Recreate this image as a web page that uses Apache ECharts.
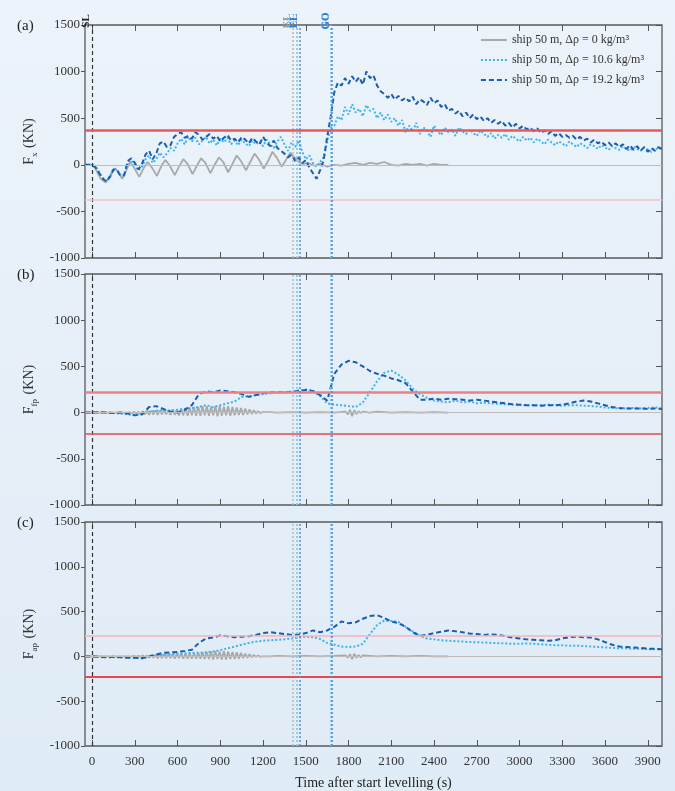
<!DOCTYPE html>
<html><head><meta charset="utf-8">
<script src="https://cdn.jsdelivr.net/npm/echarts@6/dist/echarts.min.js"></script>
<style>html,body{margin:0;padding:0;background:#e6eff8}#c{width:675px;height:791px}</style>
</head><body><div id="c"></div><script>
// ---------- data ----------
const seriesNames = ['ship 50 m, Δρ = 0 kg/m³', 'ship 50 m, Δρ = 10.6 kg/m³', 'ship 50 m, Δρ = 19.2 kg/m³'];
const panelLabels = ['(a)', '(b)', '(c)'];
const yNames = ['{m|F}{s|x}{m| (KN)}', '{m|F}{s|fp}{m| (KN)}', '{m|F}{s|ap}{m| (KN)}'];
const xTicks = [0,300,600,900,1200,1500,1800,2100,2400,2700,3000,3300,3600,3900];
const slTime = 0;
const elTimes = [1405, 1435, 1460];   // grey, light, dark
const goTimes = [1676, 1682];         // light, dark
const limitsA = [370, -375];
const limitsB = [225, -225];
const limitsC = [225, -230];

// panel (a) time grid
const T25 = [-50,-25,0,25,50,75,100,125,150,175,200,225,250,275,300,325,350,375,400,425,
450,475,500,525,550,575,600,625,650,675,700,725,750,775,800,825,850,875,900,925,
950,975,1000,1025,1050,1075,1100,1125,1150,1175,1200,1225,1250,1275,1300,1325,1350,1375,1400,1425,
1450,1475,1500,1525,1550,1575,1600,1625,1650,1675,1700,1725,1750,1775,1800,1825,1850,1875,1900,1925,
1950,1975,2000,2025,2050,2075,2100,2125,2150,2175,2200,2225,2250,2275,2300,2325,2350,2375,2400,2425,
2450,2475,2500,2525,2550,2575,2600,2625,2650,2675,2700,2725,2750,2775,2800,2825,2850,2875,2900,2925,
2950,2975,3000,3025,3050,3075,3100,3125,3150,3175,3200,3225,3250,3275,3300,3325,3350,3375,3400,3425,
3450,3475,3500,3525,3550,3575,3600,3625,3650,3675,3700,3725,3750,3775,3800,3825,3850,3875,3900,3925,
3950,3975,4000];
const darkA = [0,0,0,-30,-90,-150,-180,-130,-50,-60,-120,-110,40,70,20,-50,10,110,150,60,
120,230,250,190,210,300,330,350,290,310,280,350,320,270,300,330,280,310,250,290,
320,260,280,240,300,270,230,290,250,220,300,240,200,260,180,150,120,80,110,40,
80,20,50,-30,-90,-150,-60,50,300,520,780,880,850,930,870,950,890,940,860,1000,
930,960,850,790,760,720,760,700,740,690,720,680,730,650,700,680,640,720,660,690,
620,650,580,600,550,580,520,560,500,540,490,520,470,500,450,480,440,470,420,450,
400,440,390,420,380,400,360,390,340,370,330,360,310,340,300,320,290,310,270,300,
260,280,240,270,230,250,210,240,200,230,190,220,170,210,160,200,150,190,140,180,
150,190,170];
const lightA = [0,0,0,-20,-80,-140,-170,-120,-40,-50,-110,-120,20,50,-10,-60,-20,60,100,20,
60,130,80,120,180,150,230,280,220,300,250,290,220,260,300,230,270,210,280,240,
290,220,260,210,270,230,200,260,220,250,200,270,220,180,250,300,220,150,240,190,
260,140,60,100,20,-20,30,80,250,400,420,520,480,620,540,650,560,600,520,640,
580,600,500,560,480,540,460,500,420,480,350,420,360,450,330,400,370,300,420,360,
320,400,350,380,310,400,360,330,380,340,310,370,330,300,340,280,320,290,330,270,
310,280,250,300,260,290,240,280,250,220,270,240,210,250,230,200,250,220,190,230,
210,180,220,200,170,210,190,160,200,180,160,200,170,150,190,170,150,190,160,140,
180,160,190];
const greyA_t = [-50,0,20,60,95,130,155,175,211,240,265,290,331,360,390,420,455,490,515,545,580,610,640,670,705,
735,765,795,830,860,890,920,955,985,1015,1045,1080,1110,1140,1170,1205,1235,1265,1295,1330,1360,1390,1420,1450,1480,
1520,1560,1600,1650,1700,1750,1800,1850,1900,1950,2000,2050,2100,2150,2200,2250,2300,2350,2400,2450,2500];
const greyA_v = [0,0,-30,-150,-190,-120,-40,-60,-150,-60,30,-20,-130,-40,30,-30,-120,0,50,-10,-110,-20,60,10,-100,
-10,70,20,-90,0,80,30,-80,10,100,40,-60,30,120,60,-40,40,140,80,-20,50,130,80,30,10,
20,-10,10,-20,0,-10,10,20,0,20,10,30,0,-10,10,0,10,-10,10,0,0];

// panels (b),(c) time grid
const T50 = [-50,0,50,100,150,200,250,300,350,400,450,500,550,600,650,700,750,800,850,900,
950,1000,1050,1100,1150,1200,1250,1300,1350,1400,1450,1500,1550,1600,1650,1700,1750,1800,1850,1900,
1950,2000,2050,2100,2150,2200,2250,2300,2350,2400,2450,2500,2550,2600,2650,2700,2750,2800,2850,2900,
2950,3000,3050,3100,3150,3200,3250,3300,3350,3400,3450,3500,3550,3600,3650,3700,3750,3800,3850,3900,
3950,4000];
const darkB = [0,0,5,0,-5,0,-10,-30,-20,60,70,40,10,0,30,80,200,230,220,240,
230,220,200,170,190,210,220,220,220,225,235,245,235,190,130,420,520,560,545,500,
450,420,400,370,350,320,230,140,140,150,140,150,145,140,130,140,130,120,110,100,
90,85,80,80,75,80,80,85,100,120,130,120,100,80,60,50,45,45,45,40,
45,40];
const lightB = [0,0,0,0,-5,-10,-20,-30,-10,10,20,30,20,30,40,50,60,80,60,80,
100,120,170,180,190,200,210,215,220,225,240,250,230,180,100,85,80,70,60,110,
220,340,430,455,410,350,260,200,160,130,120,110,130,110,120,100,110,100,95,90,
85,85,80,80,80,85,80,75,80,80,75,70,65,55,50,45,45,50,45,50,
55,45];
const darkC = [0,0,-5,-10,-5,-10,-15,-15,-20,0,20,40,45,50,60,75,150,200,210,235,
225,215,220,225,240,260,270,260,250,240,245,260,290,270,290,330,390,370,380,420,
450,460,430,390,370,330,270,230,240,260,275,290,280,270,255,250,240,245,240,225,
210,200,190,185,180,175,180,200,215,220,215,210,190,160,130,110,105,100,95,85,
85,80];
const lightC = [0,0,-5,-5,-10,-10,-10,-15,-20,-5,10,20,25,30,35,40,40,45,55,70,
90,110,130,150,165,175,180,185,190,200,210,220,215,195,150,130,110,105,110,140,
250,350,400,395,385,330,280,230,200,190,180,175,170,165,160,158,155,150,148,145,
140,140,145,140,135,130,125,125,120,120,115,110,105,100,95,90,90,85,85,80,
80,80];
const greyBC_t = [-50,0,100,200,250,
265,280,295,310,325,340,355,370,385,400,415,430,445,460,475,490,505,520,535,550,565,580,595,610,625,640,655,670,685,700,
715,730,745,760,775,790,805,820,835,850,865,880,895,910,925,940,955,970,985,1000,1015,1030,1045,1060,1075,1090,1105,1120,1135,1150,1165,1180,1195,
1250,1300,1400,1500,1600,1700,1780,1795,1810,1825,1840,1855,1870,1885,1900,1950,2000,2100,2200,2300,2400,2500];
const greyB_v = [0,0,0,0,0,
5,-10,10,-15,10,-20,15,-20,20,-25,20,-20,25,-25,25,-20,30,-20,30,-25,35,-25,35,-30,45,-30,50,-35,55,-30,
60,-35,65,-35,70,-30,70,-35,65,-30,70,-40,75,-35,65,-30,70,-35,60,-30,55,-25,50,-25,45,-20,35,-15,25,-10,15,-5,5,
5,0,5,0,5,0,10,-20,30,-40,25,-15,15,-5,10,0,10,0,5,0,5,0];
const greyC_v = [0,0,0,0,0,
0,0,5,-5,5,-5,10,-10,10,-15,15,-15,20,-20,20,-20,25,-20,25,-20,25,-25,30,-20,30,-25,30,-25,35,-25,
35,-25,40,-25,45,-30,50,-30,55,-35,60,-30,55,-35,60,-35,55,-30,50,-30,45,-25,40,-20,30,-15,25,-10,15,-5,10,-5,0,
0,5,0,5,0,5,10,-15,25,-30,30,-15,15,-10,10,5,0,5,0,5,0,0];

// ---------- build ----------
const FONT = '"Liberation Serif","DejaVu Serif",serif';
const C_GREY = '#a9a9a9', C_LIGHT = '#3cb4ef', C_DARK = '#1a5db2';
const zip = (t, v) => t.map((x, i) => [x, v[i]]);
const plain = v => String(v);
const panels = [
  {grey: zip(greyA_t, greyA_v), light: zip(T25, lightA), dark: zip(T25, darkA), lim: limitsA,
   limStyle: [{color:'#e8575c', width:2.5}, {color:'#f2c0c4', width:1.5}]},
  {grey: zip(greyBC_t, greyB_v), light: zip(T50, lightB), dark: zip(T50, darkB), lim: limitsB,
   limStyle: [{color:'#ef7f86', width:2.5}, {color:'#e8474f', width:1.5}]},
  {grey: zip(greyBC_t, greyC_v), light: zip(T50, lightC), dark: zip(T50, darkC), lim: limitsC,
   limStyle: [{color:'#f0b4b8', width:1.5}, {color:'#e8474f', width:2}]}
];
const tops = [25, 274, 522];
const heights = [233, 231, 230];
const grid = tops.map((t, i) => ({left:85, right:13, top:t, height:heights[i], show:true,
  borderColor:'#5a5a5a', borderWidth:1.3, backgroundColor:'transparent'}));
const xAxis = [], yAxis = [];
for (let i = 0; i < 3; i++) {
  xAxis.push({type:'value', gridIndex:i, position:'bottom', min:-50, max:4000, axisLine:{show:false, onZero:false}, splitLine:{show:false},
    axisTick:{show:true, inside:true, length:6, customValues:xTicks, lineStyle:{color:'#555'}},
    axisLabel:{show:i===2, customValues:xTicks, formatter:plain, color:'#333', fontFamily:FONT, fontSize:13, margin:9},
    name: i===2 ? 'Time after start levelling (s)' : '', nameLocation:'middle', nameGap:30,
    nameTextStyle:{color:'#222', fontFamily:FONT, fontSize:14}});
  yAxis.push({type:'value', gridIndex:i, position:'left', min:-1000, max:1500, interval:500, axisLine:{show:false, onZero:false},
    splitLine:{show:false}, axisTick:{show:true, inside:false, length:4, lineStyle:{color:'#555'}},
    axisLabel:{color:'#333', fontFamily:FONT, fontSize:13, margin:5, formatter:plain},
    name: yNames[i], nameLocation:'middle', nameGap:39,
    nameTextStyle:{color:'#333', fontFamily:FONT, rich:{m:{fontSize:14, fontFamily:FONT, color:'#333'},
      s:{fontSize:9, fontFamily:FONT, color:'#333', padding:[9,1,0,0]}}}});
}
for (let i = 0; i < 3; i++) {
  xAxis.push({type:'value', gridIndex:i, position:'top', min:-50, max:4000, axisLine:{show:false, onZero:false}, splitLine:{show:false},
    axisTick:{show:true, inside:true, length:6, customValues:xTicks, lineStyle:{color:'#555'}}, axisLabel:{show:false}});
  yAxis.push({type:'value', gridIndex:i, position:'right', min:-1000, max:1500, interval:500, axisLine:{show:false, onZero:false},
    splitLine:{show:false}, axisTick:{show:true, inside:true, length:6, lineStyle:{color:'#555'}}, axisLabel:{show:false}});
}
const vLabel = (txt, color, show) => ({show, formatter:txt, position:'end', rotate:90, color,
  fontFamily:FONT, fontSize:11, fontWeight:'bold', distance:4});
const series = [];
panels.forEach((p, i) => {
  const lab = i === 0;
  series.push({name:seriesNames[0], type:'line', xAxisIndex:i, yAxisIndex:i, data:p.grey, showSymbol:false,
    symbol:'none', lineStyle:{color:C_GREY, width:1.8}, itemStyle:{color:C_GREY}, z:2,
    markLine:{silent:true, symbol:'none', animation:false, data:[
      {yAxis:0, lineStyle:{color:'#bdbdbd', width:1, type:'solid'}, label:{show:false}},
      {xAxis:slTime, lineStyle:{color:'#333', width:1.2, type:[4,3]}, label:vLabel('SL', '#222', lab)},
      {xAxis:elTimes[0], lineStyle:{color:'#b8b8b8', width:1.5, type:[2,2]}, label:vLabel('EL', '#9a9a9a', lab)}
    ]}});
  series.push({name:seriesNames[1], type:'line', xAxisIndex:i, yAxisIndex:i, data:p.light, showSymbol:false,
    symbol:'none', lineStyle:{color:C_LIGHT, width:2, type:[2,2]}, itemStyle:{color:C_LIGHT}, z:3,
    markLine:{silent:true, symbol:'none', animation:false, data:[
      {xAxis:elTimes[1], lineStyle:{color:'#7fcdf5', width:1.8, type:[2,2]}, label:vLabel('EL', '#55b9ef', lab)},
      {xAxis:goTimes[0], lineStyle:{color:'#7fcdf5', width:1.8, type:[2,2]}, label:vLabel('GO', '#55b9ef', lab)}
    ]}});
  series.push({name:seriesNames[2], type:'line', xAxisIndex:i, yAxisIndex:i, data:p.dark, showSymbol:false,
    symbol:'none', lineStyle:{color:C_DARK, width:2, type:[5,3]}, itemStyle:{color:C_DARK}, z:4,
    markLine:{silent:true, symbol:'none', animation:false, data:[
      {yAxis:p.lim[0], lineStyle:Object.assign({type:'solid'}, p.limStyle[0]), label:{show:false}},
      {yAxis:p.lim[1], lineStyle:Object.assign({type:'solid'}, p.limStyle[1]), label:{show:false}},
      {xAxis:elTimes[2], lineStyle:{color:'#5a8fd0', width:1.5, type:[2,2]}, label:vLabel('EL', '#3a78c8', lab)},
      {xAxis:goTimes[1], lineStyle:{color:'#4a8ad8', width:1.5, type:[2,2]}, label:vLabel('GO', '#2f7fd6', lab)}
    ]}});
});
const chart = echarts.init(document.getElementById('c'), null, {renderer:'canvas'});
chart.setOption({
  animation:false,
  backgroundColor:{type:'linear', x:0, y:0, x2:0, y2:1, colorStops:[{offset:0, color:'#ecf3fa'}, {offset:1, color:'#dfebf6'}]},
  title: panelLabels.map((t, i) => ({text:t, left:12, top:tops[i] - 11,
    textStyle:{fontFamily:FONT, fontSize:15, fontWeight:'normal', color:'#222'}})),
  legend:{data:seriesNames, orient:'vertical', right:26, top:29, itemWidth:26, itemHeight:10, itemGap:8,
    itemStyle:{opacity:0}, textStyle:{fontFamily:FONT, fontSize:12, color:'#333'}},
  grid, xAxis, yAxis, series
});
</script></body></html>
